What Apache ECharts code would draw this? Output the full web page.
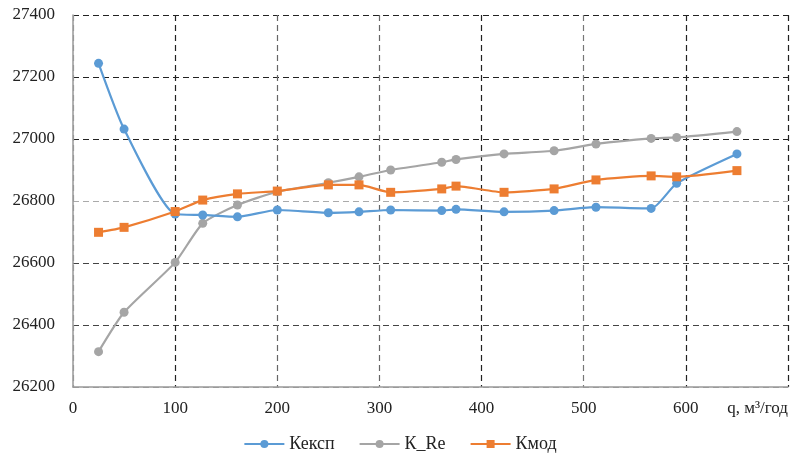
<!DOCTYPE html>
<html>
<head>
<meta charset="utf-8">
<script src="https://cdn.jsdelivr.net/npm/echarts@6/dist/echarts.min.js"></script>
<style>
  html, body { margin: 0; padding: 0; background: #fff; }
  #chart { width: 800px; height: 466px; }
</style>
</head>
<body>
<div id="chart"></div>
<script>
// q, м3/год
const qValues = [25, 50, 100, 127, 161, 200, 250, 280, 311, 361, 375, 422, 471, 512, 566, 591, 650];
const kExp = [27244, 27032, 26758, 26755, 26749, 26771, 26762, 26765, 26771, 26769, 26773, 26765, 26769, 26780, 26776, 26857, 26952];
const kRe = [26314, 26441, 26602, 26728, 26787, 26830, 26859, 26878, 26900, 26925, 26934, 26952, 26962, 26984, 27002, 27005, 27024];
const kMod = [26699, 26715, 26766, 26803, 26823, 26832, 26852, 26852, 26828, 26839, 26848, 26828, 26839, 26868, 26881, 26878, 26898];
const seriesNames = ['Кексп', 'К_Re', 'Кмод'];

const font = 'Liberation Serif';

function pairs(ys) {
  return qValues.map((q, i) => [q, ys[i]]);
}

const chart = echarts.init(document.getElementById('chart'));

// колір кожної лінії сітки окремо, як на оригіналі
const xGridColors = ['#999', '#222', '#666', '#666', '#222', '#777', '#222', '#222'];
const yGridColors = ['#999', '#444', '#444', '#aaa', '#222', '#222', '#222'];

const labelStyle = { fontFamily: font, fontSize: 17, color: '#222' };

chart.setOption({
  animation: false,
  textStyle: { fontFamily: font },
  color: ['#5B9BD5', '#A5A5A5', '#ED7D31'],
  grid: { left: 73, right: 12, top: 15, bottom: 79 },
  legend: {
    bottom: 8,
    left: 'center',
    itemWidth: 40,
    itemHeight: 10,
    itemGap: 24,
    textStyle: { fontFamily: font, fontSize: 18, color: '#222' },
    data: seriesNames,
  },
  xAxis: {
    type: 'value',
    min: 0,
    max: 700,
    interval: 100,
    axisLine: { show: true, lineStyle: { color: '#999', width: 1.5 } },
    axisTick: { show: false },
    axisLabel: Object.assign({}, labelStyle, {
      margin: 13,
      alignMaxLabel: 'right',
      formatter: (v) => (v === 700 ? 'q, м³/год' : String(v)),
    }),
    splitLine: { show: true, lineStyle: { color: xGridColors, type: [6, 4], width: 1.2 } },
  },
  yAxis: {
    type: 'value',
    min: 26200,
    max: 27400,
    interval: 200,
    axisLine: { show: true, lineStyle: { color: '#999', width: 1.5 } },
    axisTick: { show: false },
    axisLabel: Object.assign({}, labelStyle, {
      margin: 18,
      formatter: (v) => String(v),
    }),
    splitLine: { show: true, lineStyle: { color: yGridColors, type: [6, 4], width: 1.2 } },
  },
  series: [
    {
      name: seriesNames[0],
      type: 'line',
      data: pairs(kExp),
      smooth: 0.2,
      symbol: 'circle',
      symbolSize: 9,
      lineStyle: { width: 2.2 },
      z: 4,
    },
    {
      name: seriesNames[1],
      type: 'line',
      data: pairs(kRe),
      smooth: 0.2,
      symbol: 'circle',
      symbolSize: 9,
      lineStyle: { width: 2.2 },
      z: 3,
    },
    {
      name: seriesNames[2],
      type: 'line',
      data: pairs(kMod),
      smooth: 0.2,
      symbol: 'rect',
      symbolSize: 9,
      lineStyle: { width: 2.2 },
      z: 5,
    },
  ],
});
</script>
</body>
</html>
